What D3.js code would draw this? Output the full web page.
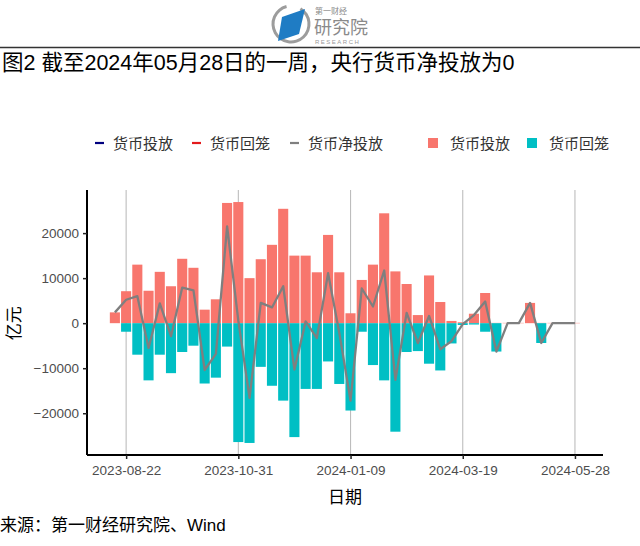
<!DOCTYPE html>
<html>
<head>
<meta charset="utf-8">
<script src="https://cdn.jsdelivr.net/npm/d3@7"></script>
<style>
    body { margin: 0; background: #fff; }
    svg text { font-family: "Liberation Sans", "Noto Sans CJK SC", sans-serif; }
</style>
</head>
<body>
<div id="chart"></div>
<script>
// weekly dates (Tuesdays)
const weeks = [
    '2023-08-15', '2023-08-22', '2023-08-29', '2023-09-05', '2023-09-12', '2023-09-19',
    '2023-09-26', '2023-10-03', '2023-10-10', '2023-10-17', '2023-10-24', '2023-10-31',
    '2023-11-07', '2023-11-14', '2023-11-21', '2023-11-28', '2023-12-05', '2023-12-12',
    '2023-12-19', '2023-12-26', '2024-01-02', '2024-01-09', '2024-01-16', '2024-01-23',
    '2024-01-30', '2024-02-06', '2024-02-13', '2024-02-20', '2024-02-27', '2024-03-05',
    '2024-03-12', '2024-03-19', '2024-03-26', '2024-04-02', '2024-04-09', '2024-04-16',
    '2024-04-23', '2024-04-30', '2024-05-07', '2024-05-14', '2024-05-21', '2024-05-28'
];

// 货币投放 (亿元)
const injection = [
    2400, 7100, 13000, 7200, 11400, 8200,
    14300, 12300, 3000, 5300, 26700, 26900,
    10000, 14200, 17400, 25400, 15000, 15000,
    11300, 19600, 11300, 2200, 9600, 13000,
    24400, 11500, 8700, 1800, 10600, 4700,
    500, 200, 2100, 6700, 0, 0,
    0, 4500, 0, 0, 0, 0
];

// 货币回笼 (亿元)
const withdrawal = [
    0, -1900, -7000, -12700, -7000, -11100,
    -6400, -5000, -13400, -12100, -5200, -26400,
    -26600, -9700, -13900, -17200, -25300, -14600,
    -14600, -8500, -13500, -19400, -1900, -9300,
    -12700, -24100, -6400, -6200, -9000, -10500,
    -4500, -400, -300, -1900, -6300, 0,
    0, 0, -4400, 0, 0, 0
];

const tickDates = ['2023-08-22', '2023-10-31', '2024-01-09', '2024-03-19', '2024-05-28'];
const yTicks = [-20000, -10000, 0, 10000, 20000];

const titleText = '图2 截至2024年05月28日的一周，央行货币净投放为0';
const sourceText = '来源：第一财经研究院、Wind';

const legendItems = [
    { label: '货币投放', type: 'line', color: '#00007f' },
    { label: '货币回笼', type: 'line', color: '#e31a1c' },
    { label: '货币净投放', type: 'line', color: '#7f7f7f' },
    { label: '货币投放', type: 'box', color: '#F8766D' },
    { label: '货币回笼', type: 'box', color: '#00BFC4' }
];

const W = 640, H = 546;
const margin = { top: 190, right: 37, bottom: 91, left: 87 };
const width = W - margin.left - margin.right;
const height = H - margin.top - margin.bottom;

const parse = d3.utcParse('%Y-%m-%d');
const data = weeks.map((w, i) => ({
    date: parse(w),
    inj: injection[i],
    wd: withdrawal[i],
    net: injection[i] + withdrawal[i]
}));

const svg = d3.select('#chart').append('svg')
    .attr('width', W)
    .attr('height', H);

// ---- header: logo, rule, title ----
const logo = svg.append('g');
logo.append('path')
    .attr('d', d3.arc()({ innerRadius: 16.5, outerRadius: 19.5, startAngle: 0.55, endAngle: 2 * Math.PI - 0.25 }))
    .attr('transform', 'translate(291,24)')
    .attr('fill', '#9c9c9c');
logo.append('polygon')
    .attr('points', '282,17 305,9 299,34 278,41')
    .attr('fill', '#1f7cc4');
logo.append('text').attr('x', 315).attr('y', 14)
    .style('font-size', '8px').style('fill', '#8a8a8a').text('第一财经');
logo.append('text').attr('x', 314).attr('y', 34)
    .style('font-size', '18px').style('fill', '#8a8a8a').text('研究院');
logo.append('text').attr('x', 315).attr('y', 44)
    .style('font-size', '6px').style('fill', '#9a9a9a').style('letter-spacing', '1.5px').text('RESEARCH');

svg.append('line')
    .attr('x1', 0).attr('x2', W).attr('y1', 47.5).attr('y2', 47.5)
    .attr('stroke', '#333').attr('stroke-width', 1.5);

svg.append('text')
    .attr('x', 2).attr('y', 70)
    .style('font-size', '21.5px').style('fill', '#000')
    .text(titleText);

// ---- legend ----
const legend = svg.append('g').attr('transform', 'translate(0,143)');
const legendX = [95, 192, 290, 428, 527];
legendItems.forEach((d, i) => {
    const g = legend.append('g').attr('transform', `translate(${legendX[i]},0)`);
    if (d.type === 'line') {
        g.append('line').attr('x1', 0).attr('x2', 9).attr('y1', 0).attr('y2', 0)
            .attr('stroke', d.color).attr('stroke-width', 2.2);
    } else {
        g.append('rect').attr('x', 0).attr('y', -5).attr('width', 10).attr('height', 10)
            .attr('fill', d.color);
    }
    g.append('text')
        .attr('x', d.type === 'line' ? 18 : 22).attr('y', 5.5)
        .style('font-size', '15px').style('fill', '#333')
        .text(d.label);
});

// ---- plot ----
const plot = svg.append('g').attr('transform', `translate(${margin.left},${margin.top})`);

const first = data[0].date, last = data[data.length - 1].date;
const x = d3.scaleUtc()
    .domain([d3.utcHour.offset(first, -17.4 * 24), d3.utcHour.offset(last, 17.5 * 24)])
    .range([0, width]);

const yMin = d3.min(withdrawal), yMax = d3.max(injection);
const pad = (yMax - yMin) * 0.05;
const y = d3.scaleLinear()
    .domain([yMin - pad, yMax + pad])
    .range([height, 0]);

// vertical grid lines
plot.append('g').selectAll('line')
    .data(tickDates.map(parse))
    .enter().append('line')
    .attr('x1', d => x(d)).attr('x2', d => x(d))
    .attr('y1', 0).attr('y2', height)
    .attr('stroke', '#bdbdbd').attr('stroke-width', 1.1);

const halfBar = 0.45 * 7 * 24;
const barX = d => x(d3.utcHour.offset(d.date, -halfBar));
const barW = d => x(d3.utcHour.offset(d.date, halfBar)) - barX(d);

// injection bars
plot.append('g').selectAll('rect')
    .data(data)
    .enter().append('rect')
    .attr('x', barX)
    .attr('width', barW)
    .attr('y', d => d.inj > 0 ? y(d.inj) : y(0) - 0.5)
    .attr('height', d => d.inj > 0 ? y(0) - y(d.inj) : 1)
    .attr('fill', '#F8766D')
    .attr('fill-opacity', d => d.inj > 0 ? 1 : 0.35);

// withdrawal bars
plot.append('g').selectAll('rect')
    .data(data.filter(d => d.wd < 0))
    .enter().append('rect')
    .attr('x', barX)
    .attr('width', barW)
    .attr('y', y(0))
    .attr('height', d => y(d.wd) - y(0))
    .attr('fill', '#00BFC4');

// net line
plot.append('path')
    .datum(data)
    .attr('fill', 'none')
    .attr('stroke', '#7f7f7f')
    .attr('stroke-width', 2.3)
    .attr('stroke-linejoin', 'round')
    .attr('d', d3.line().x(d => x(d.date)).y(d => y(d.net)));

// axes
const xAxis = plot.append('g')
    .attr('transform', `translate(0,${height})`)
    .call(d3.axisBottom(x)
        .tickValues(tickDates.map(parse))
        .tickFormat(d3.utcFormat('%Y-%m-%d'))
        .tickSize(4).tickPadding(6));

const yAxis = plot.append('g')
    .call(d3.axisLeft(y)
        .tickValues(yTicks)
        .tickFormat(d3.format('d'))
        .tickSize(4).tickPadding(4));

[xAxis, yAxis].forEach(a => {
    a.select('.domain').attr('stroke', '#000').attr('stroke-width', 2);
    a.selectAll('.tick line').attr('stroke', '#222').attr('stroke-width', 1.5);
    a.selectAll('.tick text')
        .style('font-size', '13.5px')
        .style('fill', '#4d4d4d')
        .style('font-family', '"Liberation Sans", sans-serif');
});
xAxis.select('.domain').attr('d', `M0,0H${width}`);
yAxis.select('.domain').attr('d', `M0,0V${height}`);

// axis titles
svg.append('text')
    .attr('x', margin.left + width / 2).attr('y', 503)
    .attr('text-anchor', 'middle')
    .style('font-size', '17px').style('fill', '#000')
    .text('日期');

svg.append('text')
    .attr('transform', `translate(20,${margin.top + y(0)}) rotate(-90)`)
    .attr('text-anchor', 'middle')
    .style('font-size', '17px').style('fill', '#000')
    .text('亿元');

// source
svg.append('text')
    .attr('x', 0).attr('y', 531)
    .style('font-size', '17px').style('fill', '#000')
    .text(sourceText);
</script>
</body>
</html>
